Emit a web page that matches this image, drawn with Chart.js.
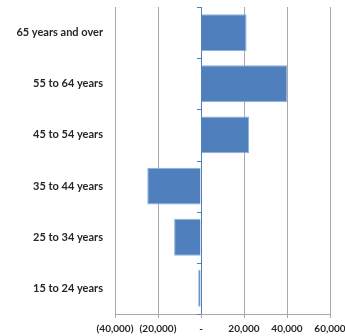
<!DOCTYPE html>
<html>
<head>
<meta charset="utf-8">
<script src="https://cdn.jsdelivr.net/npm/chart.js@4.4.1/dist/chart.umd.min.js"></script>
<style>
    html, body { margin: 0; padding: 0; background: #fff; overflow: hidden; }
    #wrap { width: 360px; height: 336px; }
</style>
</head>
<body>
<div id="wrap"><canvas id="ageChart"></canvas></div>
<script>
// Change in population by age group
const ageGroups = ['65 years and over', '55 to 64 years', '45 to 54 years', '35 to 44 years', '25 to 34 years', '15 to 24 years'];
const changeValues = [21200, 40100, 22400, -25000, -12500, -1300];
const xTicks = [-40000, -20000, 0, 20000, 40000, 60000];

const barBlue = '#4f7fbd';
const gridGray = '#a8a8a8';

Chart.defaults.font.family = 'Lato, "Open Sans", sans-serif';
Chart.defaults.color = '#262626';

// Excel-style accounting format: (40,000), -, 20,000
function formatTick(v) {
    if (v === 0) return '-';
    const s = Math.abs(v).toLocaleString('en-US');
    return v < 0 ? '(' + s + ')' : s;
}

// Small tick marks on the zero axis between categories
const zeroAxisTicks = {
    id: 'zeroAxisTicks',
    afterDatasetsDraw(chart) {
        const x = chart.scales.x, y = chart.scales.y;
        const ctx = chart.ctx;
        const x0 = x.getPixelForValue(0);
        ctx.save();
        ctx.strokeStyle = barBlue;
        ctx.lineWidth = 1;
        for (let i = 0; i <= ageGroups.length; i++) {
            const py = Math.round(y.getPixelForValue(i - 0.5)) + 0.5;
            ctx.beginPath();
            ctx.moveTo(x0 - 4, py);
            ctx.lineTo(x0, py);
            ctx.stroke();
        }
        ctx.restore();
    }
};

new Chart(document.getElementById('ageChart').getContext('2d'), {
    type: 'bar',
    data: {
        labels: ageGroups,
        datasets: [{
            data: changeValues,
            backgroundColor: barBlue,
            borderColor: '#8db0dc',
            borderWidth: 1,
            barPercentage: 0.72,
            categoryPercentage: 1
        }]
    },
    options: {
        indexAxis: 'y',
        responsive: true,
        maintainAspectRatio: false,
        animation: false,
        layout: { padding: { top: 7, right: 30, left: 0, bottom: 0 } },
        plugins: {
            legend: { display: false },
            tooltip: { enabled: false }
        },
        scales: {
            x: {
                min: -40000,
                max: 60000,
                afterBuildTicks(scale) {
                    scale.ticks = xTicks.map(v => ({ value: v }));
                },
                afterFit(scale) { scale.height = 22; },
                grid: {
                    color: ctx => ctx.tick && ctx.tick.value === 0 ? barBlue : gridGray,
                    tickColor: gridGray,
                    tickLength: 4,
                    lineWidth: 1
                },
                border: { display: true, color: gridGray, width: 1 },
                ticks: {
                    padding: 5,
                    maxRotation: 0,
                    autoSkip: false,
                    font: { size: 10, weight: 'bold' },
                    callback: v => formatTick(v)
                }
            },
            y: {
                afterFit(scale) {
                    scale.width = 115;
                    scale.paddingTop = 0;
                    scale.paddingBottom = 0;
                },
                grid: { display: false, drawTicks: false },
                border: { display: false },
                ticks: {
                    padding: 12,
                    font: { size: 11, weight: 'bold' }
                }
            }
        }
    },
    plugins: [zeroAxisTicks]
});
</script>
</body>
</html>
